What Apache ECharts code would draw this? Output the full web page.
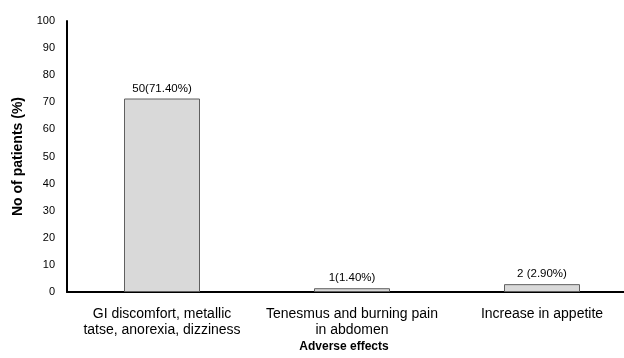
<!DOCTYPE html>
<html>
<head>
<meta charset="utf-8">
<script src="https://cdn.jsdelivr.net/npm/echarts@6/dist/echarts.min.js"></script>
<style>html,body{margin:0;padding:0;background:#fff;}#c{width:624px;height:358px;}</style>
</head>
<body>
<div id="c"></div>
<script>
var categories = ['GI discomfort, metallic\ntatse, anorexia, dizziness', 'Tenesmus and burning pain\nin abdomen', 'Increase in appetite'];
var values = [71.4, 1.4, 2.9];
var barLabels = ['50(71.40%)', '1(1.40%)', '2 (2.90%)'];
var yTicks = [0, 10, 20, 30, 40, 50, 60, 70, 80, 90, 100];

var chart = echarts.init(document.getElementById('c'), null, {renderer: 'canvas'});
var font = 'Arial, "Liberation Sans", sans-serif';
chart.setOption({
  animation: false,
  backgroundColor: '#fff',
  grid: {left: 67, top: 21, width: 570, height: 271, containLabel: false, outerBoundsMode: 'none'},
  xAxis: {
    type: 'category',
    data: categories,
    name: 'Adverse effects',
    nameLocation: 'middle',
    nameGap: 49,
    nameMoveOverlap: false,
    nameTextStyle: {fontFamily: font, fontWeight: 'bold', fontSize: 12, color: '#000', padding: [0, 16, 0, 0]},
    axisLine: {lineStyle: {color: '#000', width: 2}},
    axisTick: {show: false},
    axisLabel: {fontFamily: font, fontSize: 14, color: '#000', lineHeight: 16, margin: 14, interval: 0}
  },
  yAxis: {
    type: 'value',
    min: yTicks[0],
    max: yTicks[yTicks.length - 1],
    interval: 10,
    name: 'No of patients (%)',
    nameLocation: 'middle',
    nameGap: 42,
    nameMoveOverlap: false,
    nameTextStyle: {fontFamily: font, fontWeight: 'bold', fontSize: 14, color: '#000'},
    axisLine: {show: true, lineStyle: {color: '#000', width: 2}},
    axisTick: {show: false},
    splitLine: {show: false},
    axisLabel: {fontFamily: font, fontSize: 11, color: '#000', margin: 12}
  },
  series: [{
    type: 'bar',
    data: values,
    barWidth: '40%',
    itemStyle: {color: '#d9d9d9', borderColor: '#606060', borderWidth: 1},
    label: {
      show: true,
      position: 'top',
      distance: 4,
      fontFamily: font,
      fontSize: 11.5,
      color: '#000',
      formatter: function (p) { return barLabels[p.dataIndex]; }
    }
  }]
});
</script>
</body>
</html>
